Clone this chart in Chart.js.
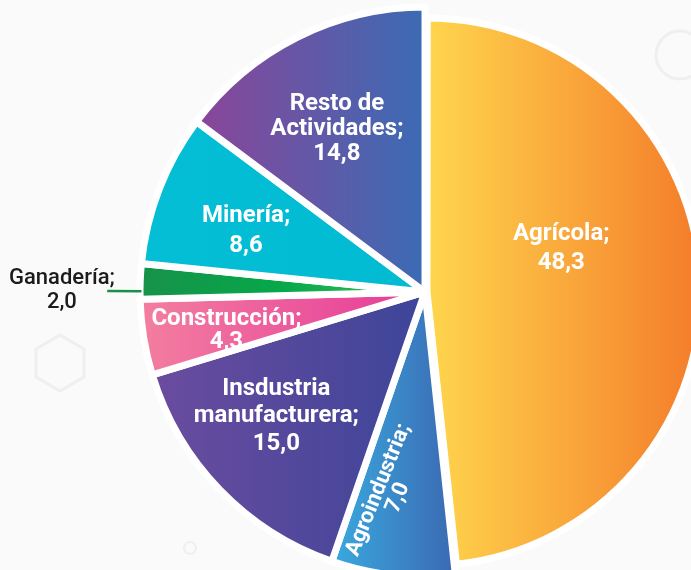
<!DOCTYPE html>
<html>
<head>
<meta charset="utf-8">
<script src="https://cdn.jsdelivr.net/npm/chart.js@4.4.1/dist/chart.umd.min.js"></script>
<style>
  html, body { margin: 0; padding: 0; background: #fafafa; overflow: hidden; width: 691px; height: 570px; }
  #wrap { position: relative; width: 691px; height: 570px; }
  #deco { position: absolute; left: 0; top: 0; }
  #c { position: absolute; left: 0; top: 0; }
</style>
</head>
<body>
<div id="wrap">
  <svg id="deco" width="691" height="570" xmlns="http://www.w3.org/2000/svg">
    <circle cx="680" cy="55" r="24" fill="none" stroke="#efefef" stroke-width="3"/>
    <polygon points="60,335 84,349 84,377 60,391 36,377 36,349" fill="none" stroke="#efefef" stroke-width="3"/>
    <circle cx="190" cy="548" r="6" fill="none" stroke="#efefef" stroke-width="2"/>
  </svg>
  <canvas id="c" width="691" height="570"></canvas>
</div>
<script>
// ---- data ----
const categories = ['Agrícola', 'Agroindustria', 'Insdustria manufacturera', 'Construcción', 'Ganadería', 'Minería', 'Resto de Actividades'];
const shares = [48.3, 7.0, 15.0, 4.3, 2.0, 8.6, 14.8];
const labelLines = [['Agrícola;'], ['Agroindustria;'], ['Insdustria', 'manufacturera;'], ['Construcción;'], ['Ganadería;'], ['Minería;'], ['Resto de', 'Actividades;']];

// ---- style ----
const gradientStops = [
  ['#ffd64d', '#f47c2a'],
  ['#3aa9df', '#3b69b2'],
  ['#6b4c9f', '#3d4599'],
  ['#f37ea0', '#e63a99'],
  ['#17924a', '#06a84a', '#3fbf5a'],
  ['#03bed4', '#00bbd2'],
  ['#8b4599', '#3b6bb4']
];
const labelRadius = [0.526, 0.72, 0.68, 0.71, 1.274, 0.663, 0.649];
const labelAngleShift = [-14.8, 3.8, 4.0, -1.9, -2.0, -2.5, -1.8];
const labelLineHeight = [29, 21, 27.5, 23, 24, 30, 25];
const labelRotation = [0, -68, 0, 0, 0, 0, 0];
const labelFont = ['bold 24px Roboto', 'bold 22px Roboto', 'bold 24px Roboto', 'bold 24px Roboto', '500 22px Roboto', 'bold 24px Roboto', 'bold 24px Roboto'];
const labelColor = ['#fff', '#fff', '#fff', '#fff', '#1b1b1b', '#fff', '#fff'];
const leaderIndex = 4;
const explodedScale = 0.955;

const fmt = v => v.toFixed(1).replace('.', ',');

const explodedSize = {
  id: 'explodedSize',
  afterDatasetsUpdate(chart) {
    const el = chart.getDatasetMeta(0).data[0];
    el.outerRadius = el.outerRadius * explodedScale;
  }
};

const sliceGradients = {
  id: 'sliceGradients',
  beforeDatasetsDraw(chart) {
    const ctx = chart.ctx;
    chart.getDatasetMeta(0).data.forEach((el, i) => {
      let minX = el.x, maxX = el.x;
      const n = 60;
      for (let k = 0; k <= n; k++) {
        const a = el.startAngle + (el.endAngle - el.startAngle) * k / n;
        const px = el.x + Math.cos(a) * el.outerRadius;
        minX = Math.min(minX, px); maxX = Math.max(maxX, px);
      }
      const g = ctx.createLinearGradient(minX, 0, maxX, 0);
      const stops = gradientStops[i];
      stops.forEach((c, k) => g.addColorStop(k / (stops.length - 1), c));
      el.options.backgroundColor = g;
    });
  }
};

const sliceLabels = {
  id: 'sliceLabels',
  afterDatasetsDraw(chart) {
    const ctx = chart.ctx;
    chart.getDatasetMeta(0).data.forEach((el, i) => {
      const mid = (el.startAngle + el.endAngle) / 2 + labelAngleShift[i] * Math.PI / 180;
      const r = el.outerRadius * labelRadius[i];
      const ax = el.x + Math.cos(mid) * r;
      const ay = el.y + Math.sin(mid) * r;
      const lines = labelLines[i].concat([fmt(shares[i])]);
      ctx.save();
      if (i === leaderIndex) {
        ctx.strokeStyle = '#15924a';
        ctx.lineWidth = 2.5;
        ctx.beginPath();
        ctx.moveTo(el.x + Math.cos(mid) * el.outerRadius * 0.995, el.y + Math.sin(mid) * el.outerRadius * 0.995);
        ctx.lineTo(el.x + Math.cos(mid) * el.outerRadius * 1.115, el.y + Math.sin(mid) * el.outerRadius * 1.115);
        ctx.stroke();
      }
      ctx.translate(ax, ay);
      ctx.rotate(labelRotation[i] * Math.PI / 180);
      ctx.font = labelFont[i];
      ctx.fillStyle = labelColor[i];
      ctx.textAlign = 'center';
      ctx.textBaseline = 'middle';
      const lh = labelLineHeight[i];
      const y0 = -(lines.length - 1) * lh / 2;
      lines.forEach((t, k) => ctx.fillText(t, 0, y0 + k * lh));
      ctx.restore();
    });
  }
};

new Chart(document.getElementById('c'), {
  type: 'pie',
  data: {
    labels: categories,
    datasets: [{
      data: shares,
      backgroundColor: c => gradientStops[c.dataIndex][0],
      borderColor: '#ffffff',
      borderWidth: 7,
      borderAlign: 'center',
      borderJoinStyle: 'round',
      offset: c => (c.dataIndex === 0 ? 8 : 0),
      hoverOffset: 0,
      clip: false
    }]
  },
  options: {
    responsive: false,
    animation: false,
    radius: 285,
    layout: { padding: { left: 159, top: 14, right: 0, bottom: 0 } },
    events: [],
    plugins: { legend: { display: false }, tooltip: { enabled: false } }
  },
  plugins: [explodedSize, sliceGradients, sliceLabels]
});
</script>
</body>
</html>
